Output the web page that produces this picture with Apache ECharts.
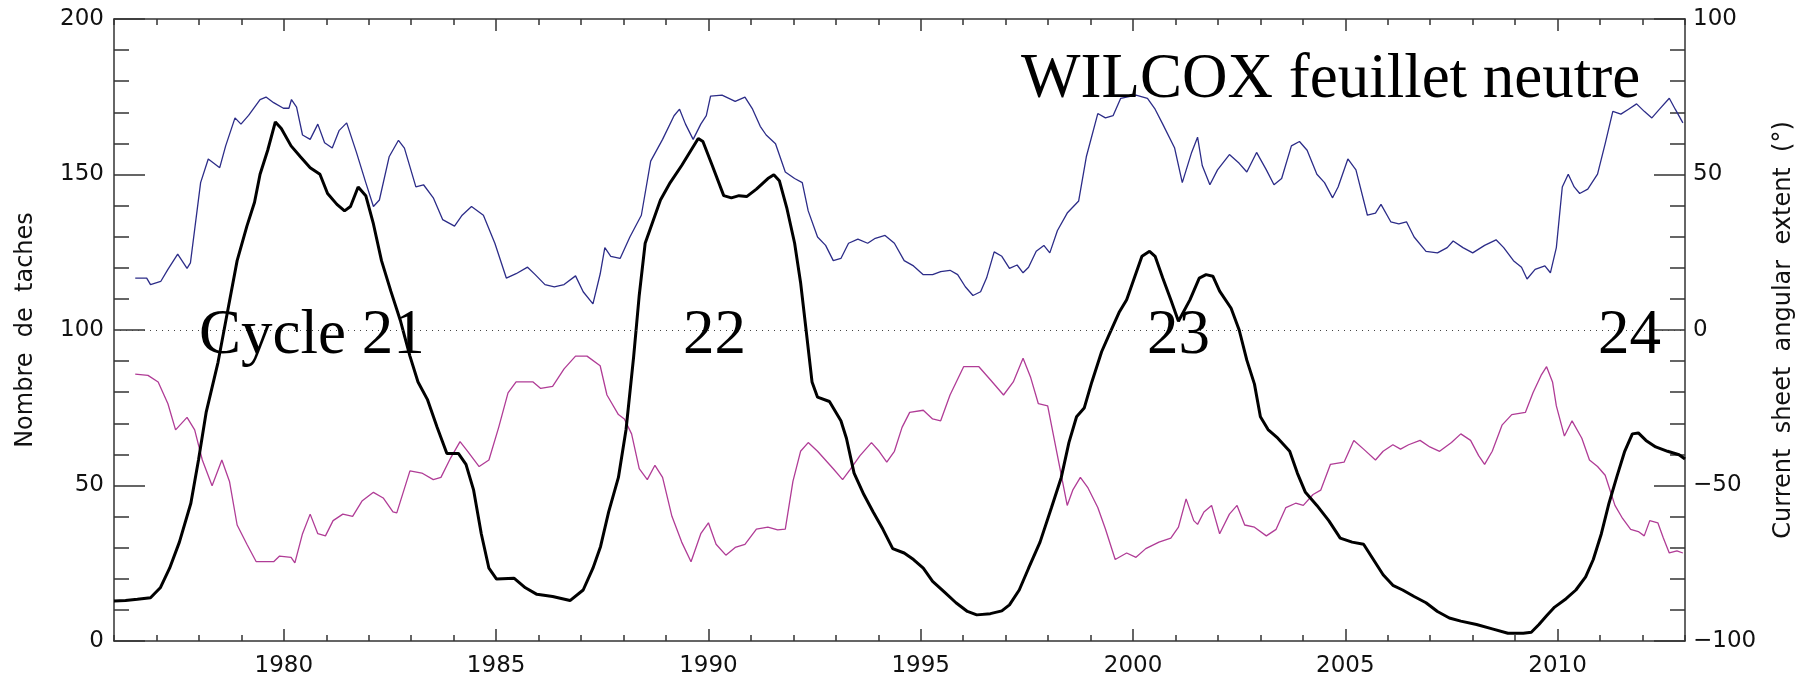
<!DOCTYPE html>
<html>
<head>
<meta charset="utf-8">
<script src="https://cdn.jsdelivr.net/npm/echarts@6/dist/echarts.min.js"></script>
<style>
html,body{margin:0;padding:0;background:#fff;}
#chart{width:1804px;height:681px;}
</style>
</head>
<body>
<div id="chart"></div>
<script>
// ---- Data ----
const yearTickLabels = [1980, 1985, 1990, 1995, 2000, 2005, 2010];

const sunspotYears = [1976.0,1976.27,1976.55,1976.86,1977.09,1977.31,1977.54,1977.81,1977.99,1978.17,1978.45,1978.67,1978.9,1979.13,1979.31,1979.44,1979.62,1979.8,1979.94,1980.17,1980.39,1980.62,1980.85,1981.03,1981.25,1981.43,1981.57,1981.75,1981.93,1982.11,1982.3,1982.52,1982.75,1982.97,1983.16,1983.38,1983.61,1983.84,1984.11,1984.29,1984.47,1984.65,1984.83,1985.01,1985.42,1985.69,1985.96,1986.33,1986.74,1987.05,1987.28,1987.46,1987.65,1987.88,1988.06,1988.24,1988.37,1988.51,1988.87,1989.1,1989.37,1989.59,1989.76,1989.87,1990.09,1990.36,1990.54,1990.72,1990.9,1991.13,1991.4,1991.54,1991.67,1991.85,1992.03,1992.17,1992.3,1992.44,1992.57,1992.85,1993.12,1993.25,1993.43,1993.66,1993.88,1994.11,1994.34,1994.61,1994.83,1995.06,1995.28,1995.56,1995.83,1996.1,1996.32,1996.64,1996.91,1997.09,1997.32,1997.54,1997.81,1998.08,1998.31,1998.49,1998.67,1998.85,1999.03,1999.26,1999.44,1999.67,1999.85,2000.03,2000.21,2000.39,2000.52,2000.7,2000.89,2001.07,2001.34,2001.56,2001.72,2001.88,2002.04,2002.31,2002.5,2002.68,2002.86,2003.0,2003.18,2003.41,2003.69,2003.87,2004.06,2004.33,2004.61,2004.88,2005.16,2005.43,2005.66,2005.89,2006.12,2006.35,2006.62,2006.9,2007.17,2007.45,2007.72,2008.09,2008.46,2008.83,2009.19,2009.38,2009.56,2009.74,2009.93,2010.2,2010.43,2010.66,2010.84,2011.03,2011.21,2011.39,2011.58,2011.76,2011.9,2012.08,2012.31,2012.59,2012.86,2013.0];
const sunspotValues = [12.9,13,13.4,13.9,17.1,23.4,31.8,44.3,58.2,73.5,89.6,105.6,122.3,133.4,141.1,150.1,157.8,166.9,164.8,159.2,155.7,152.2,150.1,143.9,140.4,138.3,139.7,146,143.2,134.1,122.3,112.5,102.8,91.6,83.3,77.7,68.7,60.3,60.3,56.8,48.5,34.5,23.4,19.9,20.2,17.1,15,14.3,13,16.4,23.4,30.4,41.5,52.6,68,91.6,111.1,127.9,141.8,147.4,152.9,157.8,161.6,160.6,152.9,143.2,142.5,143.2,142.9,145.3,148.7,149.9,148,139,127.9,115.3,100,83.3,78.4,77,70.8,65.2,54,47.1,41.5,35.9,29.7,28.3,26.2,23.4,19.2,15.7,12.3,9.5,8.4,8.8,9.7,11.6,16.4,23.4,31.8,42.9,52.6,63.8,72.1,74.9,83.3,93,98.6,105.6,109.7,116.7,123.7,125.3,123.7,116.7,109.7,102.8,109.7,116.7,117.8,117.3,112.5,107,100,90.3,82.6,72.1,68,65.2,61,54,47.8,43.6,38.7,33.1,31.8,31.1,26.2,21.3,17.9,16.4,14.3,12.3,9.5,7.4,6.4,5.3,3.9,2.5,2.5,2.8,5.3,8.1,10.9,13.6,16.4,20.6,26.2,34.5,44.3,52.6,61,66.6,66.9,64.5,62.4,61,59.9,58.5];

const northYears = [1976.5,1976.77,1976.86,1977.1,1977.27,1977.5,1977.72,1977.8,1978.04,1978.22,1978.49,1978.63,1978.85,1978.99,1979.17,1979.44,1979.58,1979.76,1979.99,1980.12,1980.18,1980.3,1980.44,1980.62,1980.8,1980.96,1981.14,1981.3,1981.48,1981.71,1981.93,1982.11,1982.25,1982.48,1982.7,1982.84,1983.11,1983.29,1983.52,1983.74,1984.02,1984.2,1984.42,1984.7,1984.97,1985.24,1985.47,1985.74,1985.92,1986.15,1986.37,1986.6,1986.87,1987.05,1987.28,1987.45,1987.56,1987.7,1987.92,1988.15,1988.42,1988.64,1988.92,1989.19,1989.32,1989.46,1989.64,1989.82,1989.95,1990.05,1990.32,1990.63,1990.86,1991.04,1991.22,1991.36,1991.58,1991.81,1992.03,1992.21,1992.35,1992.57,1992.76,1992.94,1993.12,1993.3,1993.52,1993.75,1993.93,1994.16,1994.38,1994.61,1994.83,1995.06,1995.28,1995.47,1995.69,1995.87,1996.05,1996.23,1996.41,1996.55,1996.73,1996.91,1997.09,1997.27,1997.41,1997.54,1997.72,1997.9,1998.04,1998.22,1998.45,1998.72,1998.9,1999.17,1999.35,1999.53,1999.71,2000.07,2000.34,2000.52,2000.7,2000.98,2001.16,2001.38,2001.52,2001.63,2001.81,2001.99,2002.27,2002.5,2002.68,2002.91,2003.14,2003.32,2003.5,2003.73,2003.92,2004.1,2004.33,2004.51,2004.7,2004.83,2005.06,2005.25,2005.52,2005.71,2005.84,2006.07,2006.26,2006.44,2006.62,2006.9,2007.17,2007.4,2007.54,2007.77,2008.0,2008.28,2008.55,2008.73,2008.96,2009.15,2009.28,2009.47,2009.7,2009.83,2009.97,2010.11,2010.25,2010.39,2010.52,2010.71,2010.94,2011.12,2011.3,2011.49,2011.67,2011.86,2012.04,2012.22,2012.4,2012.63,2012.77,2012.95];
const northExtent = [16.7,16.7,14.6,15.6,19.5,24.4,19.8,21.6,47.4,55,52.2,59.2,68.2,66.2,69,74.1,74.9,73.1,71.3,71.3,74.1,71.7,62.7,61.3,66.2,60.2,58.5,64.1,66.6,57.1,47.4,39.7,41.8,55.7,61,58.5,46,46.7,42.5,35.5,33.4,36.9,39.7,36.9,27.9,16.7,18.1,20.2,17.8,14.6,13.9,14.6,17.4,12.3,8.4,18,26.5,23.7,23,29.9,36.9,54.3,61.3,68.9,71,66.2,61.3,66.2,68.9,75.2,75.5,73.5,74.9,71,65.5,62.7,59.9,50.8,48.7,47.4,38.3,29.9,27.2,22.3,23,27.9,29.2,27.9,29.5,30.4,27.9,22.3,20.6,17.8,17.8,18.8,19.2,17.8,13.9,11.1,12.3,16.7,25.1,23.7,19.8,20.9,18.4,20.2,25.3,27.2,24.8,32,37.6,41.5,55.7,69.6,68.2,68.9,74.5,75.5,74.5,71,66.2,58.5,47.4,57.1,62,52.9,46.7,51.5,56.4,53.6,50.8,57.1,51.5,46.7,48.7,59.2,60.6,57.8,50.1,47.4,42.5,46,55,51.5,36.9,37.6,40.4,34.8,34.1,34.8,29.9,25.3,24.8,26.5,28.6,26.5,24.8,27.2,29,26.5,22.3,20.2,16.4,19.5,20.6,18.4,26.5,46,50.1,46,43.9,45.3,50.1,59.9,70.3,69.4,71,72.7,70.3,68.2,71,74.5,71,66.6];

const southYears = [1976.5,1976.8,1977.04,1977.27,1977.45,1977.72,1977.9,1978.08,1978.31,1978.54,1978.72,1978.9,1979.13,1979.35,1979.76,1979.9,1980.17,1980.26,1980.44,1980.62,1980.8,1980.98,1981.16,1981.39,1981.62,1981.84,1982.11,1982.34,1982.57,1982.66,1982.97,1983.25,1983.52,1983.7,1983.93,1984.15,1984.33,1984.6,1984.83,1985.06,1985.28,1985.47,1985.87,1986.05,1986.33,1986.6,1986.87,1987.14,1987.45,1987.61,1987.88,1988.02,1988.19,1988.37,1988.56,1988.74,1988.92,1989.14,1989.37,1989.59,1989.82,1990.0,1990.18,1990.41,1990.63,1990.86,1991.13,1991.4,1991.63,1991.81,1991.99,1992.17,1992.35,1992.57,1992.94,1993.16,1993.34,1993.57,1993.84,1994.02,1994.2,1994.38,1994.56,1994.74,1995.06,1995.28,1995.47,1995.69,1996.01,1996.37,1996.64,1996.95,1997.18,1997.41,1997.59,1997.77,1997.99,1998.22,1998.45,1998.58,1998.76,1998.94,1999.17,1999.35,1999.58,1999.85,2000.07,2000.3,2000.61,2000.89,2001.07,2001.25,2001.43,2001.52,2001.67,2001.85,2002.04,2002.27,2002.45,2002.63,2002.86,2003.14,2003.37,2003.6,2003.83,2004.01,2004.24,2004.42,2004.65,2004.97,2005.2,2005.43,2005.71,2005.89,2006.12,2006.3,2006.49,2006.76,2006.99,2007.22,2007.5,2007.72,2007.95,2008.14,2008.28,2008.46,2008.69,2008.92,2009.24,2009.42,2009.61,2009.74,2009.88,2009.97,2010.16,2010.34,2010.57,2010.75,2010.94,2011.12,2011.35,2011.53,2011.72,2011.9,2012.04,2012.17,2012.36,2012.49,2012.63,2012.81,2012.95];
const southExtent = [-14.2,-14.6,-16.7,-23.7,-32.1,-28.1,-32.1,-41.8,-50.1,-41.8,-48.7,-62.7,-68.9,-74.5,-74.5,-72.7,-73.1,-74.9,-65.5,-59.2,-65.5,-66.2,-61.3,-59.2,-59.9,-55,-52.2,-54,-58.5,-58.8,-45.3,-46,-48.1,-47.4,-41.1,-35.9,-39,-43.9,-41.8,-31.3,-20.2,-16.7,-16.7,-18.8,-18.1,-12.5,-8.4,-8.4,-11.5,-20.9,-27.2,-28.6,-33.4,-44.6,-48.1,-43.5,-47.4,-59.9,-68.2,-74.5,-65.5,-62,-68.9,-72.4,-69.9,-68.9,-64,-63.4,-64.3,-64,-48.7,-39,-36.2,-39,-44.6,-48.1,-44.8,-40.4,-36.2,-39,-42.5,-39,-31.3,-26.5,-25.8,-28.6,-29.2,-20.9,-11.8,-11.8,-16,-20.9,-16.7,-9.1,-15.3,-23.7,-24.4,-40.4,-56.4,-51.5,-47.4,-50.8,-57.1,-64,-73.8,-71.7,-73.1,-70.3,-68.2,-66.9,-63.4,-54.3,-61.3,-62.5,-58.5,-56.4,-65.5,-59.2,-56.4,-62.7,-63.4,-66.2,-64.1,-57.1,-55.7,-56.4,-52.9,-51.5,-43.2,-42.5,-35.5,-38.3,-41.8,-39,-36.9,-38.3,-36.9,-35.5,-37.6,-39,-36.2,-33.4,-35.5,-40.4,-43.2,-39,-30.6,-27.2,-26.5,-20.2,-14.6,-11.8,-16.7,-24.4,-34.1,-29.2,-34.8,-41.8,-43.9,-46.7,-56.4,-60.6,-64.1,-64.8,-66.2,-61.3,-62,-66.9,-71.7,-71,-71.7];

const cycleLabels = ['Cycle 21', '22', '23', '24'];
const titleText = 'WILCOX feuillet neutre';

// ---- Chart ----
const pairs = (xs, ys) => xs.map((x, i) => [x, ys[i]]);
const chart = echarts.init(document.getElementById('chart'), null, {renderer: 'canvas'});

const AX = '#333';
const LBL = '#111';
const tickFont = {fontFamily: 'DejaVu Sans', fontSize: 23, color: LBL};

function xAxisBase(pos) {
  return {
    type: 'value', min: 1976, max: 2013, position: pos, gridIndex: 0,
    splitLine: {show: false},
    axisLine: {show: true, onZero: false, lineStyle: {color: AX, width: 1.5}},
  };
}

const option = {
  backgroundColor: '#fff',
  animation: false,
  grid: {left: 114, right: 119, top: 19, bottom: 40, containLabel: false, outerBoundsMode: 'none'},
  xAxis: [
    Object.assign(xAxisBase('bottom'), {
      interval: 1,
      axisTick: {show: true, inside: true, length: 6, lineStyle: {color: AX, width: 1.5}},
      axisLabel: Object.assign({show: true, margin: 14, formatter: v => (yearTickLabels.indexOf(v) >= 0 ? String(v) : '')}, tickFont)
    }),
    Object.assign(xAxisBase('bottom'), {
      axisLine: {show: false, onZero: false},
      axisTick: {show: true, inside: true, length: 12, customValues: yearTickLabels, lineStyle: {color: AX, width: 1.5}},
      axisLabel: {show: false}
    }),
    Object.assign(xAxisBase('top'), {
      interval: 1,
      axisTick: {show: true, inside: true, length: 6, lineStyle: {color: AX, width: 1.5}},
      axisLabel: {show: false}
    }),
    Object.assign(xAxisBase('top'), {
      axisLine: {show: false, onZero: false},
      axisTick: {show: true, inside: true, length: 12, customValues: yearTickLabels, lineStyle: {color: AX, width: 1.5}},
      axisLabel: {show: false}
    })
  ],
  yAxis: [
    {
      type: 'value', min: 0, max: 200, interval: 50, position: 'left',
      name: 'Nombre  de  taches', nameLocation: 'middle', nameRotate: 90, nameGap: 76,
      nameTextStyle: {fontFamily: 'DejaVu Sans', fontSize: 24, color: LBL},
      splitLine: {show: false},
      axisLine: {show: true, onZero: false, lineStyle: {color: AX, width: 1.5}},
      axisTick: {show: true, inside: true, length: 31, lineStyle: {color: AX, width: 1.5}},
      minorTick: {show: true, splitNumber: 5, length: 15, lineStyle: {color: AX, width: 1.5}},
      axisLabel: Object.assign({margin: 10}, tickFont)
    },
    {
      type: 'value', min: -100, max: 100, interval: 50, position: 'right',
      name: 'Current  sheet  angular  extent  (°)', nameLocation: 'middle', nameRotate: 90, nameGap: 87,
      nameTextStyle: {fontFamily: 'DejaVu Sans', fontSize: 24, color: LBL},
      splitLine: {show: false},
      axisLine: {show: true, onZero: false, lineStyle: {color: AX, width: 1.5}},
      axisTick: {show: true, inside: true, length: 31, lineStyle: {color: AX, width: 1.5}},
      minorTick: {show: true, splitNumber: 5, length: 15, lineStyle: {color: AX, width: 1.5}},
      axisLabel: Object.assign({margin: 8, formatter: v => (v < 0 ? '\u2212' + Math.abs(v) : String(v))}, tickFont)
    }
  ],
  series: [
    {
      name: 'north', type: 'line', xAxisIndex: 0, yAxisIndex: 1,
      data: pairs(northYears, northExtent), showSymbol: false, symbol: 'none',
      lineStyle: {color: '#2c2c88', width: 1.3}, z: 2
    },
    {
      name: 'south', type: 'line', xAxisIndex: 0, yAxisIndex: 1,
      data: pairs(southYears, southExtent), showSymbol: false, symbol: 'none',
      lineStyle: {color: '#b03c96', width: 1.3}, z: 2
    },
    {
      name: 'sunspots', type: 'line', xAxisIndex: 0, yAxisIndex: 0,
      data: pairs(sunspotYears, sunspotValues), showSymbol: false, symbol: 'none',
      lineStyle: {color: '#000', width: 3}, z: 3,
      markLine: {
        silent: true, symbol: 'none', label: {show: false},
        lineStyle: {color: '#444', width: 1, type: [1, 5]},
        data: [{yAxis: 100}]
      }
    }
  ],
  graphic: (function () {
    const serif = '63px "Liberation Serif", "Times New Roman", serif';
    const pos = [[199, 336], [683, 336], [1147, 336], [1598, 336]];
    const els = cycleLabels.map((t, i) => ({
      type: 'text', x: pos[i][0], y: pos[i][1], z: 100,
      style: {text: t, font: serif, fill: '#000', align: 'left', verticalAlign: 'middle'}
    }));
    els.push({
      type: 'text', x: 1021, y: 80, z: 100,
      style: {text: titleText, font: serif, fill: '#000', align: 'left', verticalAlign: 'middle'}
    });
    return els;
  })()
};

chart.setOption(option);
</script>
</body>
</html>
